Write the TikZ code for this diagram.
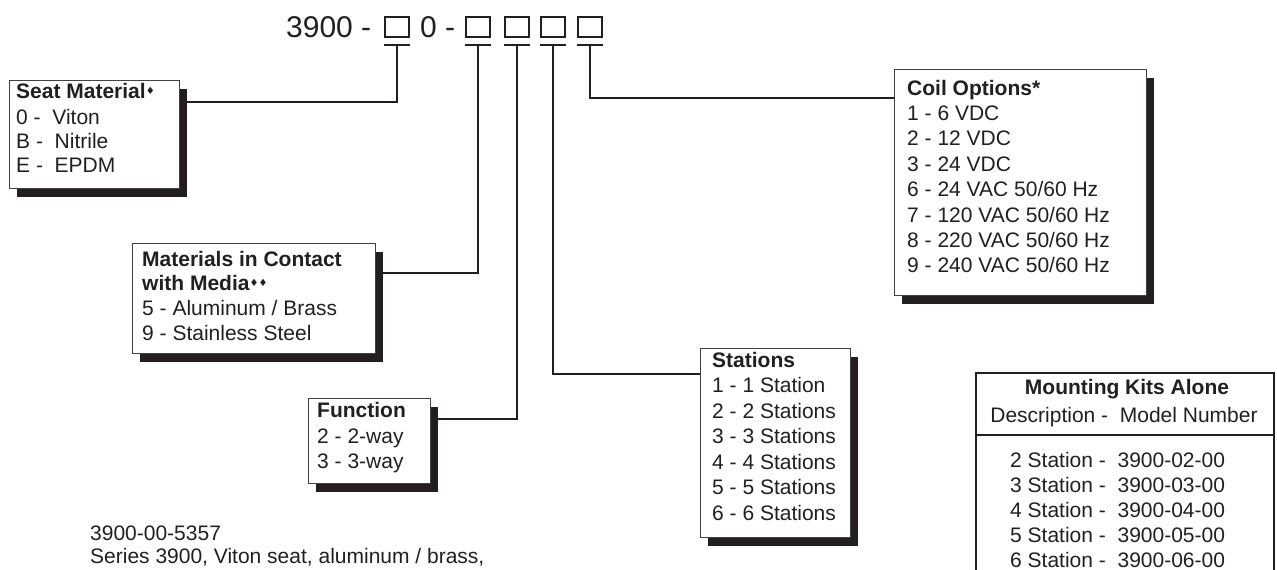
\documentclass[tikz,border=0pt]{standalone}
\usepackage{fontspec}
\setmainfont{Liberation Sans}
\newfontfamily\symfont{DejaVu Sans}
\definecolor{ink}{HTML}{231F20}
\newcommand\dmd{{\symfont\fontsize{10}{10}\selectfont\raisebox{3.5pt}{♦}}}
\newcommand\panelbox[5]{%
  \node[shade, minimum width=#4pt, minimum height=#5pt] (#1s) at (#2+8,#3+9) {};
  \node[panel, minimum width=#4pt, minimum height=#5pt] (#1) at (#2,#3) {};}
\begin{document}
\begin{tikzpicture}[x=1pt,y=-1pt,
  panel/.style={draw=ink!85, line width=1.2pt, fill=white, anchor=north west, inner sep=0},
  shade/.style={fill=ink, anchor=north west, inner sep=0},
  conn/.style={draw=ink, line width=2pt},
  digitbox/.style={draw=ink, line width=2pt, minimum width=24pt, minimum height=20pt, inner sep=0},
  bar/.style={draw=ink, line width=2.2pt},
  txt/.style={anchor=base west, inner sep=0, text=ink, font=\fontsize{21}{25}\selectfont},
  hd/.style={anchor=base west, inner sep=0, text=ink, font=\fontsize{21}{25}\selectfont\bfseries},
  code/.style={anchor=base west, inner sep=0, text=ink, font=\fontsize{30}{30}\selectfont},
  kitline/.style={draw=ink, line width=2pt}]

\useasboundingbox (0,0) rectangle (1277,570);

% ---- model code ----
\node[code] (c1) at (286,37) {3900 -};
\node[digitbox] (b1) at (397,27) {};
\node[code] (c2) at (420,37) {0 -};
\node[digitbox] (b2) at (478,27) {};
\node[digitbox] (b3) at (517,27) {};
\node[digitbox] (b4) at (553,27) {};
\node[digitbox] (b5) at (590,27) {};
\foreach \b in {b1,b2,b3,b4,b5}{
  \draw[bar] ([yshift=-7pt]\b.south west) -- ([yshift=-7pt]\b.south east);
  \coordinate (u\b) at ([yshift=-7pt]\b.south);
}

% ---- panels ----
\panelbox{seat}{9}{80}{170}{108}
\panelbox{mat}{132}{243}{243}{110}
\panelbox{fun}{308}{398}{122}{85}
\panelbox{sta}{700}{348}{150}{189}
\panelbox{coil}{894}{69}{252}{226}

% ---- connectors ----
\draw[conn] (ub1) |- ([yshift=-13pt]seats.north east);
\draw[conn] (ub2) |- ([yshift=-21pt]mats.north east);
\draw[conn] (ub3) |- ([yshift=-12pt]funs.north east);
\draw[conn] (ub4) |- ([yshift=-26pt]sta.north west);
\draw[conn] (ub5) |- ([yshift=-29pt]coil.north west);

% ---- seat material ----
\node[hd] (seat0) at (16,98) {Seat Material\dmd};
\node[txt] (seat1) at (16,124) {0 - \ Viton};
\node[txt] (seat2) at (16,148) {B - \ Nitrile};
\node[txt] (seat3) at (16,172) {E - \ EPDM};

% ---- materials ----
\node[hd] (mat0) at (142,266) {Materials in Contact};
\node[hd] (mat1) at (142,290) {with Media\dmd\dmd};
\node[txt] (mat2) at (142,315) {5 - Aluminum / Brass};
\node[txt] (mat3) at (142,340) {9 - Stainless Steel};

% ---- function ----
\node[hd] (fun0) at (317,417) {Function};
\node[txt] (fun1) at (317,443) {2 - 2-way};
\node[txt] (fun2) at (317,468) {3 - 3-way};

% ---- stations ----
\node[hd] (sta0) at (712,367) {Stations};
\foreach \t [count=\i] in {{1 - 1 Station},{2 - 2 Stations},{3 - 3 Stations},{4 - 4 Stations},{5 - 5 Stations},{6 - 6 Stations}}
  \node[txt] (sta\i) at (712,367+25.5*\i) {\t};

% ---- coil ----
\node[hd] (coil0) at (907,95) {Coil Options*};
\foreach \t [count=\i] in {{1 - 6 VDC},{2 - 12 VDC},{3 - 24 VDC},{6 - 24 VAC 50/60 Hz},{7 - 120 VAC 50/60 Hz},{8 - 220 VAC 50/60 Hz},{9 - 240 VAC 50/60 Hz}}
  \node[txt] (coil\i) at (907,95+25.4*\i) {\t};

% ---- mounting kits ----
\node[kitline, anchor=north west, minimum width=298pt, minimum height=240pt, inner sep=0] (kit) at (975,372) {};
\draw[kitline] ([yshift=-63pt]kit.north west) -- ([yshift=-63pt]kit.north east);
\node[hd, anchor=base] (kit0) at (1127,394) {Mounting Kits Alone};
\node[txt, anchor=base] (kit1) at (1124,422) {Description - \ Model Number};
\foreach \n [count=\i] in {2,3,4,5,6}
  \node[txt] (kitr\i) at (1010,442+25*\i) {\n\ Station - \ 3900-0\n-00};

% ---- bottom note ----
\node[txt] (pn) at (90,540) {3900-00-5357};
\node[txt] (pd) at (90,563) {Series 3900, Viton seat, aluminum / brass,};
\end{tikzpicture}
\end{document}
